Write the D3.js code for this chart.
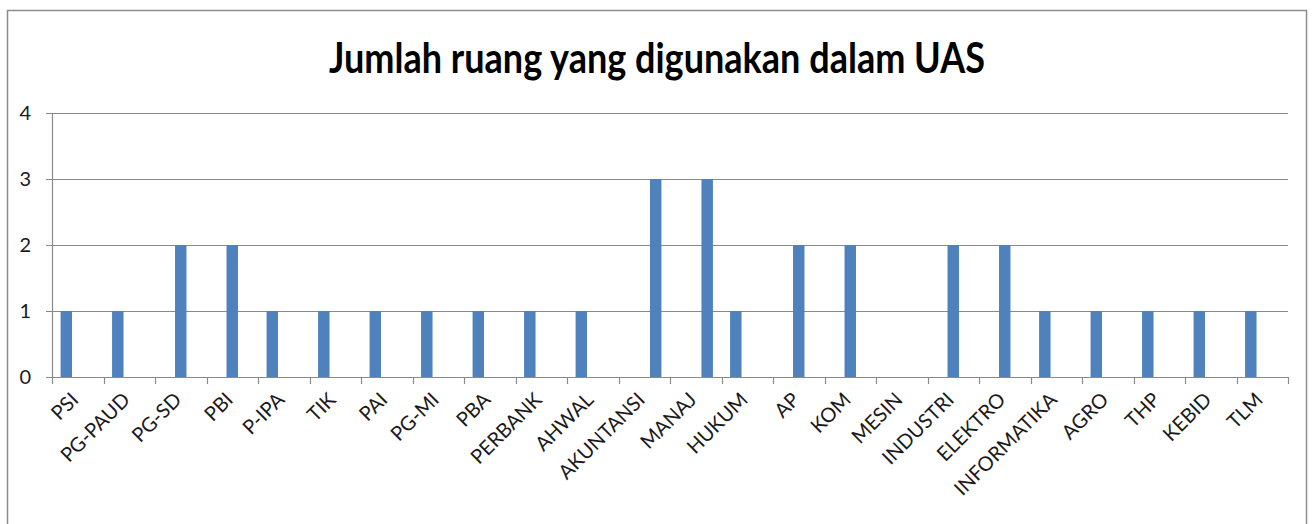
<!DOCTYPE html>
<html>
<head>
<meta charset="utf-8">
<script src="https://cdn.jsdelivr.net/npm/d3@7"></script>
<style>
  html, body { margin: 0; padding: 0; background: #fff; }
  svg { display: block; }
</style>
</head>
<body>
<div id="chart"></div>
<script>
'use strict';

// Kategori (program studi)
const categories = ['PSI', 'PG-PAUD', 'PG-SD', 'PBI', 'P-IPA', 'TIK', 'PAI', 'PG-MI', 'PBA', 'PERBANK',
  'AHWAL', 'AKUNTANSI', 'MANAJ', 'HUKUM', 'AP', 'KOM', 'MESIN', 'INDUSTRI', 'ELEKTRO', 'INFORMATIKA',
  'AGRO', 'THP', 'KEBID', 'TLM'];

// Tiga seri (kolom berkelompok) — tiap prodi hanya terisi di satu seri
const series = ['Seri 1', 'Seri 2', 'Seri 3'];
const seri1 = [1, 1, 0, 0, 1, 1, 1, 1, 1, 1, 1, 0, 0, 1, 0, 0, 0, 0, 0, 1, 1, 1, 1, 1];
const seri2 = [0, 0, 2, 2, 0, 0, 0, 0, 0, 0, 0, 0, 0, 0, 2, 2, 0, 2, 2, 0, 0, 0, 0, 0];
const seri3 = [0, 0, 0, 0, 0, 0, 0, 0, 0, 0, 0, 3, 3, 0, 0, 0, 0, 0, 0, 0, 0, 0, 0, 0];
const yTicks = [0, 1, 2, 3, 4];

const title = 'Jumlah ruang yang digunakan dalam UAS';

const W = 1312, H = 524;
const plot = { left: 52, right: 1288, top: 113, bottom: 377 };
const BAR = '#4f81bd';
const GRID = '#8a8a8a';
const FONT = 'Lato, "Open Sans", sans-serif';

const svg = d3.select('#chart').append('svg')
  .attr('width', W).attr('height', H)
  .attr('viewBox', `0 0 ${W} ${H}`);

// bingkai area chart
svg.append('rect')
  .attr('x', 7.5).attr('y', 10.5)
  .attr('width', 1299).attr('height', 540)
  .attr('fill', '#fff')
  .attr('stroke', '#8c8c8c')
  .attr('stroke-width', 1.5);

const x0 = d3.scaleBand().domain(categories).range([plot.left, plot.right]).padding(0);
// gap width 150% -> padding luar 0.75 langkah
const x1 = d3.scaleBand().domain(series).range([0, x0.bandwidth()]).paddingInner(0).paddingOuter(0.75);
const y = d3.scaleLinear().domain([0, 4]).range([plot.bottom, plot.top]);

// garis grid + tick kiri
const grid = svg.append('g');
yTicks.forEach(t => {
  grid.append('line')
    .attr('x1', plot.left - 6).attr('x2', plot.right)
    .attr('y1', Math.round(y(t)) + 0.5).attr('y2', Math.round(y(t)) + 0.5)
    .attr('stroke', GRID).attr('stroke-width', 1.2);
});

// sumbu y
svg.append('line')
  .attr('x1', plot.left + 0.5).attr('x2', plot.left + 0.5)
  .attr('y1', plot.top).attr('y2', plot.bottom)
  .attr('stroke', GRID).attr('stroke-width', 1.2);

svg.append('g').selectAll('text')
  .data(yTicks)
  .join('text')
    .attr('x', 31)
    .attr('y', d => y(d))
    .attr('dy', '0.36em')
    .attr('text-anchor', 'end')
    .attr('font-family', FONT)
    .attr('font-size', 20)
    .attr('fill', '#1a1a1a')
    .text(d => d);

// tick kategori
const bounds = categories.map(c => x0(c)).concat([plot.right]);
svg.append('g').selectAll('line')
  .data(bounds)
  .join('line')
    .attr('x1', d => Math.round(d) + 0.5).attr('x2', d => Math.round(d) + 0.5)
    .attr('y1', plot.bottom).attr('y2', plot.bottom + 7)
    .attr('stroke', GRID).attr('stroke-width', 1.2);

// batang
const rows = categories.map((c, i) => ({
  cat: c,
  vals: [seri1[i], seri2[i], seri3[i]]
}));

svg.append('g').selectAll('g')
  .data(rows)
  .join('g')
    .attr('transform', d => `translate(${x0(d.cat)},0)`)
  .selectAll('rect')
  .data(d => d.vals.map((v, j) => ({ s: series[j], v })))
  .join('rect')
    .attr('x', d => x1(d.s))
    .attr('width', x1.bandwidth())
    .attr('y', d => y(d.v))
    .attr('height', d => y(0) - y(d.v))
    .attr('fill', BAR);

// label kategori miring
svg.append('g').selectAll('text')
  .data(categories)
  .join('text')
    .attr('transform', d => `translate(${x0(d) + x0.bandwidth() / 2 + 2},${plot.bottom + 24}) rotate(-45)`)
    .attr('text-anchor', 'end')
    .attr('font-family', FONT)
    .attr('font-size', 20)
    .attr('fill', '#1a1a1a')
    .text(d => d);

// judul
svg.append('text')
  .attr('x', 657)
  .attr('y', 73)
  .attr('text-anchor', 'middle')
  .attr('font-family', FONT)
  .attr('font-weight', 700)
  .attr('font-size', 42)
  .attr('textLength', 656)
  .attr('lengthAdjust', 'spacingAndGlyphs')
  .attr('fill', '#000')
  .text(title);
</script>
</body>
</html>
